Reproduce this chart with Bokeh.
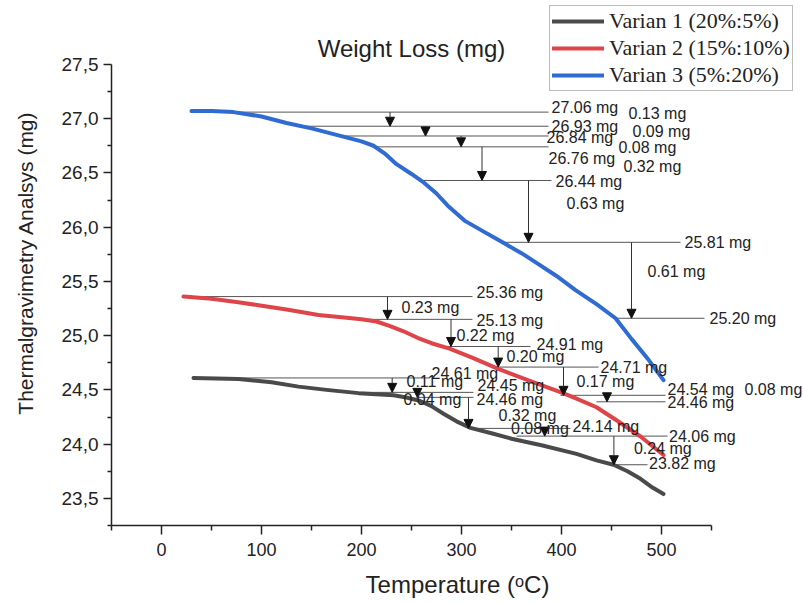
from bokeh.plotting import figure
from bokeh.models import (FixedTicker, CustomJSTickFormatter, Arrow, NormalHead,
                          ColumnDataSource, Label, LabelSet)
from bokeh.core.properties import value
from bokeh.embed import file_html
from bokeh.resources import INLINE

# ---------------- data ----------------
x_ticks = [0, 100, 200, 300, 400, 500]
x_minor = [-50, 50, 150, 250, 350, 450, 550]
y_ticks = [23.5, 24.0, 24.5, 25.0, 25.5, 26.0, 26.5, 27.0, 27.5]
y_minor = [23.25, 23.75, 24.25, 24.75, 25.25, 25.75, 26.25, 26.75, 27.25]
x_axis_span = (-50, 550)
y_axis_span = (23.25, 27.5)

series_names = ["Varian 1 (20%:5%)", "Varian 2 (15%:10%)", "Varian 3 (5%:20%)"]

temp1 = [32, 77, 110, 137, 165, 197, 232, 245, 258, 270, 282, 295, 309, 330, 350, 380,
         415, 435, 452, 466, 479, 491, 502]
mass1 = [24.61, 24.60, 24.57, 24.53, 24.50, 24.47, 24.45, 24.43, 24.40, 24.35, 24.28, 24.21,
         24.15, 24.10, 24.05, 23.99, 23.91, 23.85, 23.81, 23.75, 23.68, 23.60, 23.54]

temp2 = [22, 50, 75, 97, 125, 157, 180, 200, 215, 228, 242, 256, 270, 288, 310, 335, 355,
         375, 399, 415, 435, 455, 479, 502]
mass2 = [25.36, 25.34, 25.31, 25.28, 25.24, 25.19, 25.17, 25.15, 25.13, 25.09, 25.04, 24.98,
         24.93, 24.88, 24.80, 24.70, 24.63, 24.56, 24.48, 24.42, 24.34, 24.22, 24.07, 23.90]

temp3 = [30, 50, 72, 100, 125, 150, 175, 200, 212, 223, 235, 250, 261, 275, 286, 303, 320,
         341, 360, 375, 395, 414, 435, 454, 470, 486, 502]
mass3 = [27.07, 27.07, 27.06, 27.02, 26.96, 26.91, 26.85, 26.79, 26.75, 26.68, 26.58, 26.49,
         26.42, 26.31, 26.20, 26.06, 25.97, 25.86, 25.76, 25.67, 25.55, 25.42, 25.29,
         25.16, 24.97, 24.79, 24.59]

# annotation levels (horizontal reference lines) per series
lvl3 = [27.06, 26.93, 26.84, 26.74, 26.43, 25.86, 25.16]
lvl3_from = [29, 136, 182, 213, 261, 341, 454]
lvl3_to = [387, 387, 387, 387, 390, 519, 543]
arr3_x = [228.5, 264, 299.6, 320.5, 367, 470]
val3_txt = ["27.06 mg", "26.93 mg", "26.84 mg", "26.76 mg", "26.44 mg", "25.81 mg", "25.20 mg"]
val3_x = [390, 390, 385, 387, 394, 523, 548]
val3_y = [27.10, 26.93, 26.83, 26.63, 26.42, 25.86, 25.16]
d3_txt = ["0.13 mg", "0.09 mg", "0.08 mg", "0.32 mg", "0.63 mg", "0.61 mg"]
d3_x = [467, 471, 457, 462, 405, 486]
d3_y = [27.05, 26.885, 26.73, 26.56, 26.22, 25.59]

lvl2 = [25.36, 25.15, 24.90, 24.71, 24.45, 24.39]
lvl2_from = [22, 200, 279.5, 335.5, 399, 435]
lvl2_to = [311, 311, 369, 437, 504, 504]
arr2_x = [226, 289.5, 336.7, 402, 445.5]
val2_txt = ["25.36 mg", "25.13 mg", "24.91 mg", "24.71 mg", "24.54 mg", "24.46 mg"]
val2_x = [315, 315, 375, 439, 506, 506]
val2_y = [25.395, 25.14, 24.92, 24.71, 24.50, 24.385]
d2_txt = ["0.23 mg", "0.22 mg", "0.20 mg", "0.17 mg", "0.08 mg"]
d2_x = [240, 295, 345, 415, 583]
d2_y = [25.26, 25.00, 24.805, 24.58, 24.50]

lvl1 = [24.61, 24.477, 24.431, 24.145, 24.074, 23.81]
lvl1_from = [32, 190, 255, 308.6, 355, 452.4]
lvl1_to = [268, 312, 312, 409, 506, 486]
arr1_x = [230.7, 255.8, 307, 383.2, 452.4]
val1_txt = ["24.61 mg", "24.45 mg", "24.46 mg", "24.14 mg", "24.06 mg", "23.82 mg"]
val1_x = [270, 316, 315, 411, 507.5, 487.5]
val1_y = [24.65, 24.54, 24.41, 24.167, 24.07, 23.82]
d1_txt = ["0.11 mg", "0.04 mg", "0.32 mg", "0.08 mg", "0.24 mg"]
d1_x = [245, 242, 337, 349.5, 472.4]
d1_y = [24.58, 24.41, 24.26, 24.145, 23.96]

# ---------------- figure ----------------
FONT = "Liberation Sans"
W, H = 803, 603
LEFT, BOTTOM = 111, 78
frame_w = W - LEFT          # 1 px per degree
frame_h = H - BOTTOM        # 108.5 px per mg
x_end = x_axis_span[0] + frame_w / 1.0
y_end = y_axis_span[0] + frame_h / 108.5

p = figure(width=W, height=H, x_range=(x_axis_span[0], x_end), y_range=(y_axis_span[0], y_end),
           output_backend="svg", toolbar_location=None,
           min_border_left=LEFT, min_border_right=0, min_border_top=0, min_border_bottom=BOTTOM)
p.outline_line_color = None
p.xgrid.visible = False
p.ygrid.visible = False
p.background_fill_color = "white"
p.border_fill_color = "white"

for ax in (p.xaxis[0], p.yaxis[0]):
    ax.axis_line_color = "#222222"
    ax.axis_line_width = 1.5
    ax.major_tick_line_color = "#222222"
    ax.minor_tick_line_color = "#222222"
    ax.major_tick_line_width = 1.5
    ax.minor_tick_line_width = 1.5
    ax.major_tick_in = 0
    ax.minor_tick_in = 0
    ax.major_label_text_font = FONT
    ax.major_label_text_color = "#222222"
    ax.axis_label_text_font = FONT
    ax.axis_label_text_font_style = "normal"
    ax.axis_label_text_color = "#222222"

xa = p.xaxis[0]
xa.bounds = x_axis_span
xa.ticker = FixedTicker(ticks=x_ticks, minor_ticks=x_minor)
xa.major_tick_out = 9
xa.minor_tick_out = 5
xa.major_label_text_font_size = "18px"
xa.major_label_standoff = 8
xa.axis_label = "Temperature (ᵒC)"
xa.axis_label_text_font_size = "24px"
xa.axis_label_standoff = 12

ya = p.yaxis[0]
ya.bounds = y_axis_span
ya.ticker = FixedTicker(ticks=y_ticks, minor_ticks=y_minor)
ya.formatter = CustomJSTickFormatter(code="return tick.toFixed(1).replace('.', ',');")
ya.major_tick_out = 8
ya.minor_tick_out = 4
ya.major_label_text_font_size = "19px"
ya.major_label_standoff = 5
ya.axis_label = "Thermalgravimetry Analsys (mg)"
ya.axis_label_text_font_size = "21px"
ya.axis_label_standoff = 22

# horizontal reference lines
seg = ColumnDataSource(dict(
    x0=lvl3_from + lvl2_from + lvl1_from,
    x1=lvl3_to + lvl2_to + lvl1_to,
    y=lvl3 + lvl2 + lvl1,
))
p.segment(x0="x0", y0="y", x1="x1", y1="y", source=seg, line_color="#555555", line_width=1)

# curves
colors = ["#4a4a4a", "#df4448", "#2f6bd1"]
for t, m, c, name in ((temp1, mass1, colors[0], series_names[0]),
                      (temp2, mass2, colors[1], series_names[1]),
                      (temp3, mass3, colors[2], series_names[2])):
    p.line(t, m, line_color=c, line_width=4, line_join="round", line_cap="round",
           legend_label=name)

# arrows between consecutive levels
ax_list, ay0, ay1 = [], [], []
for xs, lv in ((arr3_x, lvl3), (arr2_x, lvl2), (arr1_x, lvl1)):
    for i, xv in enumerate(xs):
        ax_list.append(xv)
        ay0.append(lv[i])
        ay1.append(lv[i + 1])
arr_src = ColumnDataSource(dict(x=ax_list, y0=ay0, y1=ay1))
p.add_layout(Arrow(end=NormalHead(size=9, fill_color="#111111", line_color="#111111", line_width=1),
                   x_start="x", y_start="y0", x_end="x", y_end="y1", source=arr_src,
                   line_color="#333333", line_width=1))

# texts
txt_src = ColumnDataSource(dict(
    x=val3_x + d3_x + val2_x + d2_x + val1_x + d1_x,
    y=val3_y + d3_y + val2_y + d2_y + val1_y + d1_y,
    text=val3_txt + d3_txt + val2_txt + d2_txt + val1_txt + d1_txt,
))
p.add_layout(LabelSet(x="x", y="y", text="text", source=txt_src,
                      text_font=value(FONT), text_font_size="16px", text_color="#222222",
                      text_align="left", text_baseline="middle"))

# title
p.add_layout(Label(x=300, y=frame_h - 48, x_units="screen", y_units="screen",
                   text="Weight Loss (mg)",
                   text_font=FONT, text_font_size="24px", text_color="#222222",
                   text_align="center", text_baseline="alphabetic"))

# legend
lg = p.legend[0]
lg.location = (438, frame_h - 91)
lg.label_text_font = "Liberation Serif"
lg.label_text_font_size = "22px"
lg.label_text_color = "#222222"
lg.glyph_width = 52
lg.glyph_height = 26
lg.label_height = 26
lg.label_standoff = 5
lg.spacing = 1
lg.padding = 2
lg.margin = 0
lg.border_line_color = "#777777"
lg.border_line_width = 1
lg.background_fill_color = "white"
lg.background_fill_alpha = 1.0

open("out.html", "w").write(file_html(p, INLINE))
